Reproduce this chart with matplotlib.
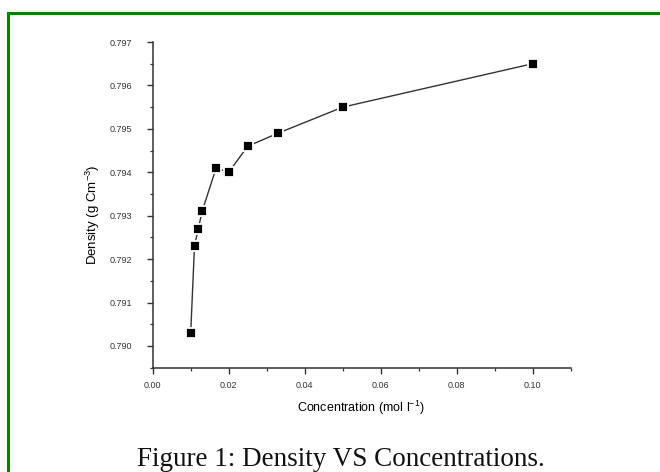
import matplotlib
matplotlib.use("Agg")
import matplotlib.pyplot as plt
from matplotlib.patches import Rectangle
from matplotlib.ticker import MultipleLocator, FormatStrFormatter

# data
conc = [0.010, 0.011, 0.012, 0.013, 0.0167, 0.020, 0.025, 0.033, 0.050, 0.100]
density = [0.7903, 0.7923, 0.7927, 0.7931, 0.7941, 0.7940, 0.7946, 0.7949, 0.7955, 0.7965]

xlabel = "Concentration (mol l$^{\\mathregular{-1}}$)"
ylabel = "Density (g Cm$^{\\mathregular{-3}}$)"
caption = "Figure 1: Density VS Concentrations."

plt.rcParams['font.family'] = ['Liberation Sans', 'DejaVu Sans']

fig = plt.figure(figsize=(6.6, 4.72), dpi=100)
fig.patch.set_facecolor('white')

# green frame round the figure
frame = Rectangle((7.5/660, -0.1), 1.2, 1 - 13/472 + 0.1, transform=fig.transFigure,
                  fill=False, edgecolor='#0b7f0b', linewidth=2.2, clip_on=False)
fig.patches.append(frame)

ax = fig.add_axes([152.7/660, 104.3/472, 418/660, 325.7/472])
ax.plot(conc, density, color='#333333', lw=1.0, marker='s', markersize=6.8,
        markerfacecolor='black', markeredgecolor='white', markeredgewidth=1.3)

ax.set_xlim(0, 0.11)
ax.set_ylim(0.7895, 0.797)

for s in ['top', 'right']:
    ax.spines[s].set_visible(False)
for s in ['left', 'bottom']:
    ax.spines[s].set_linewidth(1.1)
    ax.spines[s].set_color('#333333')

ax.xaxis.set_major_locator(MultipleLocator(0.02))
ax.xaxis.set_minor_locator(MultipleLocator(0.01))
ax.xaxis.set_major_formatter(FormatStrFormatter('%.2f'))
ax.yaxis.set_major_locator(MultipleLocator(0.001))
ax.yaxis.set_minor_locator(MultipleLocator(0.0005))
ax.yaxis.set_major_formatter(FormatStrFormatter('%.3f'))

ax.tick_params(which='major', direction='out', length=4.5, width=1.0, color='#333333',
               labelsize=6.5, labelcolor='#333333')
ax.tick_params(which='minor', direction='out', length=2.5, width=0.9, color='#333333')
ax.tick_params(axis='x', which='major', pad=5)
ax.tick_params(axis='y', which='major', pad=10.5)

ax.set_xlabel(xlabel, fontsize=9)
ax.set_ylabel(ylabel, fontsize=9.5)
ax.xaxis.set_label_coords((361 - 152.7)/418, -(408 - 367.7)/325.7)
ax.yaxis.set_label_coords(-(152.7 - 93)/418, (367.7 - 215)/325.7)
ax.xaxis.label.set_va('center')
ax.yaxis.label.set_va('center')

fig.text(341/660, 1 - 466/472, caption, ha='center', va='baseline',
         fontsize=19.5, family=['Liberation Serif', 'DejaVu Serif'], color='#111111')

fig.savefig("out.png", dpi=100)
